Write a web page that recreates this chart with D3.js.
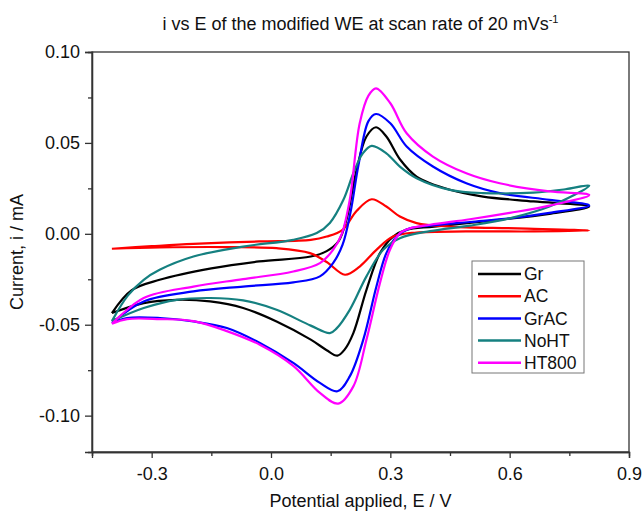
<!DOCTYPE html>
<html lang="en">
<head>
<meta charset="UTF-8">
<title>CV</title>
<style>
  body { margin: 0; background: #fff; }
  text { font-family: Arial, "Liberation Sans", sans-serif; fill: #111; }
</style>
</head>
<body>
<div id="root"></div>
<script src="https://d3js.org/d3.v7.min.js"></script>
<script>
// data: [E (V), i (mA)] in scan order, forward then reverse
const seriesNames = ["Gr", "AC", "GrAC", "NoHT", "HT800"]
const seriesColors = ["#000000", "#ff0000", "#0000ff", "#158080", "#ff00ff"]

const gr = [
  [-0.40,-0.0436],[-0.35,-0.031],[-0.28,-0.0253],[-0.15,-0.019],[-0.03,-0.0152],[0.10,-0.0125],
  [0.14,-0.0095],[0.17,-0.004],[0.19,0.008],[0.215,0.035],[0.24,0.0535],[0.264,0.0586],[0.29,0.0535],
  [0.324,0.041],[0.366,0.0315],[0.45,0.0242],[0.533,0.0205],[0.66,0.0178],[0.80,0.015],
  [0.70,0.011],[0.575,0.0077],[0.41,0.004],[0.34,0.0022],[0.307,-0.0015],[0.274,-0.0106],[0.24,-0.0308],
  [0.207,-0.0546],[0.185,-0.0637],[0.167,-0.067],[0.14,-0.064],[0.10,-0.0582],[0.014,-0.0482],
  [-0.07,-0.0408],[-0.153,-0.0372],[-0.237,-0.0363],[-0.32,-0.0381],[-0.40,-0.0436]
]
const ac = [
  [-0.40,-0.0082],[-0.30,-0.0068],[-0.195,-0.0055],[-0.03,-0.0042],[0.10,-0.0033],[0.14,-0.0015],
  [0.18,0.0022],[0.215,0.0125],[0.253,0.019],[0.29,0.015],[0.324,0.0095],[0.366,0.0059],[0.45,0.004],
  [0.62,0.003],[0.80,0.0018],
  [0.66,0.0013],[0.49,0.0013],[0.366,0.0007],[0.307,-0.0015],[0.265,-0.0088],[0.223,-0.018],
  [0.186,-0.0225],[0.14,-0.0155],[0.098,-0.0106],[0.014,-0.0079],[-0.11,-0.0073],[-0.28,-0.0075],[-0.40,-0.0082]
]
const grac = [
  [-0.40,-0.049],[-0.32,-0.0372],[-0.195,-0.0317],[-0.07,-0.029],[0.056,-0.0267],[0.123,-0.0234],
  [0.156,-0.0161],[0.18,-0.006],[0.20,0.012],[0.22,0.038],[0.245,0.062],[0.264,0.0659],[0.30,0.0608],
  [0.341,0.048],[0.407,0.037],[0.491,0.0278],[0.575,0.0224],[0.70,0.0187],[0.80,0.0156],
  [0.70,0.0115],[0.60,0.0085],[0.50,0.0065],[0.40,0.0045],[0.349,0.003],[0.316,-0.0015],[0.29,-0.0106],
  [0.265,-0.029],[0.232,-0.0582],[0.198,-0.0784],[0.167,-0.0866],[0.123,-0.082],[0.056,-0.071],
  [-0.028,-0.06],[-0.111,-0.0518],[-0.195,-0.0482],[-0.279,-0.0463],[-0.362,-0.0463],[-0.40,-0.049]
]
const noht = [
  [-0.40,-0.048],[-0.36,-0.034],[-0.32,-0.0253],[-0.28,-0.0198],[-0.195,-0.0125],[-0.07,-0.007],
  [0.056,-0.0033],[0.115,0.0004],[0.148,0.006],[0.182,0.0187],[0.207,0.0333],[0.23,0.044],[0.253,0.0484],
  [0.29,0.0443],[0.324,0.037],[0.366,0.0306],[0.45,0.0242],[0.533,0.0224],[0.66,0.0227],[0.74,0.0245],[0.80,0.0265],
  [0.70,0.015],[0.60,0.0085],[0.50,0.0045],[0.40,0.0015],[0.324,-0.0024],[0.282,-0.0088],[0.24,-0.0234],
  [0.198,-0.0418],[0.165,-0.052],[0.148,-0.0546],[0.10,-0.0505],[0.014,-0.0418],[-0.07,-0.0366],
  [-0.153,-0.0353],[-0.237,-0.0363],[-0.32,-0.0408],[-0.40,-0.048]
]
const ht800 = [
  [-0.40,-0.0495],[-0.32,-0.0353],[-0.195,-0.029],[-0.07,-0.0249],[0.056,-0.0207],[0.123,-0.0161],
  [0.156,-0.0088],[0.178,0.0],[0.198,0.0187],[0.223,0.0608],[0.245,0.076],[0.264,0.08],[0.30,0.0718],
  [0.341,0.0553],[0.407,0.0425],[0.491,0.0333],[0.575,0.0278],[0.70,0.0233],[0.80,0.0214],
  [0.70,0.0155],[0.60,0.0115],[0.50,0.008],[0.40,0.005],[0.349,0.003],[0.324,0.0004],[0.299,-0.0088],
  [0.274,-0.027],[0.24,-0.0582],[0.207,-0.0839],[0.169,-0.0934],[0.123,-0.0875],[0.056,-0.0726],
  [-0.028,-0.061],[-0.111,-0.0535],[-0.195,-0.048],[-0.279,-0.0469],[-0.362,-0.0469],[-0.40,-0.0495]
]
const allSeries = [gr, ac, grac, noht, ht800]

const xTicks = [-0.3, 0.0, 0.3, 0.6, 0.9]
const xMinor = [-0.45, -0.15, 0.15, 0.45, 0.75]
const yTicks = [-0.10, -0.05, 0.00, 0.05, 0.10]
const yMinor = [-0.075, -0.025, 0.025, 0.075]

// layout
const W = 644, H = 512
const margin = {top: 52, right: 15, bottom: 60, left: 92}

const svg = d3.select("#root").append("svg")
  .attr("width", W)
  .attr("height", H)

const x = d3.scaleLinear().domain([-0.45, 0.9]).range([margin.left, W - margin.right])
const y = d3.scaleLinear().domain([-0.12, 0.10]).range([H - margin.bottom, margin.top])

const fmt = p => d => d3.format(p)(d).replace("−", "-")

// frame
svg.append("rect")
  .attr("x", x.range()[0]).attr("y", y.range()[1])
  .attr("width", x.range()[1] - x.range()[0])
  .attr("height", y.range()[0] - y.range()[1])
  .attr("fill", "none").attr("stroke", "#333").attr("stroke-width", 1.3)

// axes: major with labels, minor without
svg.append("g").attr("transform", `translate(0,${y.range()[0]})`)
  .call(d3.axisBottom(x).tickValues(xTicks).tickFormat(fmt(".1f")).tickSize(6).tickPadding(9))
svg.append("g").attr("transform", `translate(0,${y.range()[0]})`)
  .call(d3.axisBottom(x).tickValues(xMinor).tickFormat(() => "").tickSize(4))

svg.append("g").attr("transform", `translate(${x.range()[0]},0)`)
  .call(d3.axisLeft(y).tickValues(yTicks).tickFormat(fmt(".2f")).tickSize(7).tickPadding(5))
svg.append("g").attr("transform", `translate(${x.range()[0]},0)`)
  .call(d3.axisLeft(y).tickValues(yMinor).tickFormat(() => "").tickSize(4))

svg.selectAll(".domain").attr("stroke", "#333").attr("stroke-width", 1.3)
svg.selectAll(".tick line").attr("stroke", "#333").attr("stroke-width", 1.3)
svg.selectAll(".tick text")
  .style("font-size", "18px")
  .style("font-family", "Arial, 'Liberation Sans', sans-serif")
  .attr("fill", "#111")

// curves
const line = d3.line()
  .x(d => x(d[0]))
  .y(d => y(d[1]))
  .curve(d3.curveCatmullRom.alpha(0.5))

svg.append("g").selectAll("path")
  .data(allSeries)
  .join("path")
  .attr("d", d => line(d))
  .attr("fill", "none")
  .attr("stroke", (d, i) => seriesColors[i])
  .attr("stroke-width", 2.2)
  .attr("stroke-linejoin", "round")

// title
const title = svg.append("text")
  .attr("x", (x.range()[0] + x.range()[1]) / 2)
  .attr("y", 30)
  .attr("text-anchor", "middle")
  .style("font-size", "18px")
title.append("tspan").text("i vs E of the modified WE at scan rate of 20 mVs")
title.append("tspan").attr("dy", -7).style("font-size", "11px").text("-1")

// axis labels
svg.append("text")
  .attr("x", (x.range()[0] + x.range()[1]) / 2)
  .attr("y", 507)
  .attr("text-anchor", "middle")
  .style("font-size", "18px")
  .text("Potential applied, E / V")

svg.append("text")
  .attr("transform", `translate(23,${(y.range()[0] + y.range()[1]) / 2}) rotate(-90)`)
  .attr("text-anchor", "middle")
  .style("font-size", "18px")
  .text("Current, i / mA")

// legend
const lg = svg.append("g").attr("transform", "translate(472,261)")
lg.append("rect")
  .attr("width", 112).attr("height", 112)
  .attr("fill", "#fff").attr("stroke", "#777").attr("stroke-width", 1)
const rows = lg.selectAll("g.row")
  .data(seriesNames)
  .join("g")
  .attr("transform", (d, i) => `translate(0,${13 + i * 22.2})`)
rows.append("line")
  .attr("x1", 6).attr("x2", 49)
  .attr("stroke", (d, i) => seriesColors[i])
  .attr("stroke-width", 2.5)
rows.append("text")
  .attr("x", 52).attr("dy", "0.35em")
  .style("font-size", "17.5px")
  .text(d => d)
</script>
</body>
</html>
